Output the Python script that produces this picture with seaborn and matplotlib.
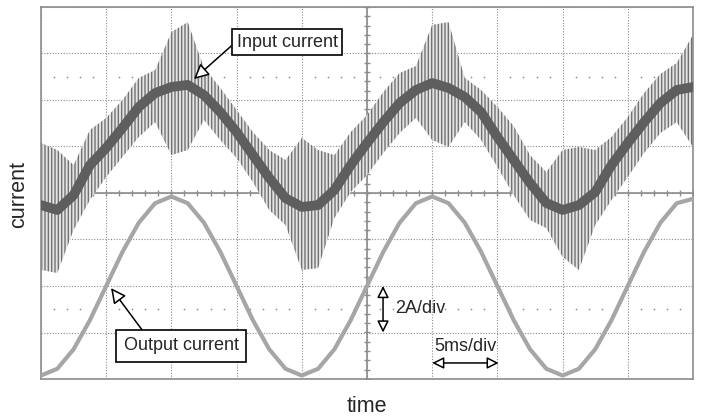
import numpy as np
import matplotlib
matplotlib.use("Agg")
import matplotlib.pyplot as plt
import seaborn as sns

# sample instants, ms (5 ms per division, read every quarter division)
time_ms = [0, 1.25, 2.5, 3.75, 5, 6.25, 7.5, 8.75, 10, 11.25, 12.5, 13.75,
           15, 16.25, 17.5, 18.75, 20, 21.25, 22.5, 23.75, 25, 26.25, 27.5,
           28.75, 30, 31.25, 32.5, 33.75, 35, 36.25, 37.5, 38.75, 40, 41.25,
           42.5, 43.75, 45, 46.25, 47.5, 48.75, 50]

# input current: tips of the switching ripple and the dense core (A)
input_upper = [2.15, 1.85, 1.20, 2.71, 3.23, 4.00, 4.95, 5.29, 6.92, 7.35,
               5.38, 4.52, 3.57, 2.62, 1.85, 1.42, 2.37, 1.85, 1.63, 2.62,
               3.35, 4.34, 5.16, 5.46, 7.23, 7.35, 4.95, 4.43, 3.70, 2.88,
               1.63, 0.90, 1.85, 1.98, 1.85, 2.41, 3.27, 4.30, 5.12, 5.59, 6.80]
input_lower = [-3.31, -3.44, -1.59, -0.30, 0.69, 1.55, 2.41, 3.05, 1.63, 1.85,
               3.14, 2.28, 1.51, 0.47, -0.73, -1.38, -3.31, -3.23, -1.08, 0.04,
               0.77, 1.72, 2.58, 3.23, 2.28, 1.98, 3.05, 2.28, 1.12, -0.09,
               -1.16, -1.51, -2.75, -3.31, -1.38, -0.30, 0.69, 1.72, 2.58, 3.05, 1.98]
input_core = [-0.52, -0.73, -0.09, 1.20, 1.94, 2.80, 3.70, 4.30, 4.56, 4.65,
              4.21, 3.48, 2.62, 1.63, 0.65, -0.22, -0.60, -0.52, 0.13, 1.20,
              2.15, 3.05, 3.87, 4.43, 4.73, 4.52, 4.13, 3.48, 2.41, 1.42,
              0.43, -0.43, -0.73, -0.52, 0.04, 1.20, 2.15, 3.05, 3.87, 4.43, 4.56]

# output current (A)
output_current = [-7.85, -7.56, -6.72, -5.47, -4.00, -2.53, -1.28, -0.44, -0.15,
                  -0.44, -1.28, -2.53, -4.00, -5.47, -6.72, -7.56, -7.85, -7.56,
                  -6.72, -5.47, -4.00, -2.53, -1.28, -0.44, -0.15, -0.44, -1.28,
                  -2.53, -4.00, -5.47, -6.72, -7.56, -7.85, -7.56, -6.72, -5.47,
                  -4.00, -2.53, -1.28, -0.44, -0.25]

sns.set_style("white")
plt.rcParams["font.family"] = ["Liberation Sans", "DejaVu Sans"]
plt.rcParams["hatch.linewidth"] = 1.0

fig = plt.figure(figsize=(7.01, 4.19), dpi=100)
ax = fig.add_axes([41 / 701, 1 - 379 / 419, 652 / 701, 372 / 419])

grid_col = "#8c8c8c"
ax.set_xlim(0, 50)
ax.set_ylim(-8, 8)
ax.set_xticks(np.arange(0, 51, 5))
ax.set_yticks(np.arange(-8, 9, 2))
ax.grid(True, color=grid_col, linestyle=(0, (1, 1.5)), linewidth=0.8)
ax.tick_params(length=0, labelbottom=False, labelleft=False)
for s in ax.spines.values():
    s.set_color("#8c8c8c")
    s.set_linewidth(1.2)

# centre cross with small division marks
ax.axhline(0, color=grid_col, lw=1.2, zorder=1)
ax.axvline(25, color=grid_col, lw=1.2, zorder=1)
ax.plot(np.arange(0, 50.1, 1), np.zeros(51), ls="none", marker="|",
        ms=5, color=grid_col, mew=1)
ax.plot(np.full(41, 25), np.arange(-8, 8.01, 0.4), ls="none", marker="_",
        ms=5, color=grid_col, mew=1)
dots = [x for x in range(1, 50) if x % 5]
ax.scatter(dots, [5] * len(dots), s=1.5, color=grid_col, lw=0)
ax.scatter(dots, [-5] * len(dots), s=1.5, color=grid_col, lw=0)

# input current: ripple band + dense core
ax.fill_between(time_ms, input_lower, input_upper, facecolor="#e4e4e4",
                edgecolor="#727272", hatch="|||||", linewidth=0, zorder=2)
sns.lineplot(x=time_ms, y=input_core, ax=ax, color="#5e5e5e", linewidth=7,
             zorder=3)

# output current
sns.lineplot(x=time_ms, y=output_current, ax=ax, color="#a6a6a6",
             linewidth=3, zorder=3)
ax.set_xlabel("")
ax.set_ylabel("")

arrow = dict(arrowstyle="-|>,head_length=0.7,head_width=0.35", fc="white",
             ec="black", lw=1.1, shrinkA=0, shrinkB=0)
ax.annotate("Input current", xy=(11.73, 4.90), xytext=(18.87, 6.49),
            fontsize=13, ha="center", va="center", zorder=6,
            bbox=dict(boxstyle="square,pad=0.26", fc="white", ec="black", lw=1.2),
            arrowprops=dict(arrow, relpos=(0, 0.55)))
ax.annotate("Output current", xy=(5.37, -4.09), xytext=(10.74, -6.58),
            fontsize=13, ha="center", va="center", zorder=6,
            bbox=dict(boxstyle="square,pad=0.4", fc="white", ec="black", lw=1.2),
            arrowprops=dict(arrow, relpos=(0.21, 1)))

# scale markers
dbl = dict(arrowstyle="<|-|>,head_length=0.7,head_width=0.35", fc="white",
           ec="black", lw=1.1, shrinkA=0, shrinkB=0)
ax.annotate("", xy=(26.23, -4.0), xytext=(26.23, -6.0), arrowprops=dbl, zorder=6)
ax.text(27.15, -4.95, "2A/div", fontsize=13, ha="left", va="center", zorder=6)
ax.annotate("", xy=(30.0, -7.31), xytext=(35.1, -7.31), arrowprops=dbl, zorder=6)
ax.text(30.2, -6.62, "5ms/div", fontsize=13, ha="left", va="center", zorder=6)

fig.text(19 / 701, 1 - 194 / 419, "current", rotation=90, ha="center",
         va="center", fontsize=15.5)
fig.text(367 / 701, 1 - 406 / 419, "time", ha="center", va="center",
         fontsize=15.5)

fig.savefig("out.png", dpi=100)
